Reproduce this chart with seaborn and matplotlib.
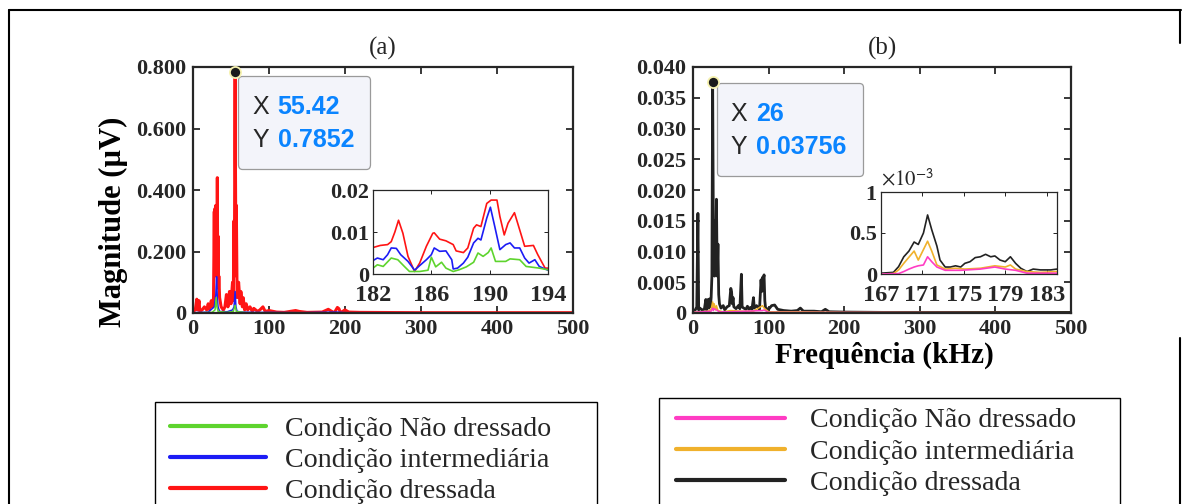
import numpy as np
import matplotlib
matplotlib.use("Agg")
import matplotlib.pyplot as plt
import seaborn as sns
from matplotlib.lines import Line2D
from matplotlib.legend_handler import HandlerLine2D
from matplotlib.offsetbox import TextArea, HPacker, VPacker, AnnotationBbox, DrawingArea

sns.set_style("ticks")
plt.rcParams['font.family'] = ['Liberation Serif', 'DejaVu Serif']
plt.rcParams['mathtext.fontset'] = 'stix'

W, H = 1182, 504

# ---------------- data ----------------
# panel (a) main spectrum (kHz, uV)
freq_red_a = [0, 3, 5, 6, 8, 9, 12, 15, 18, 20, 22, 24, 26, 27, 28, 28.5, 29, 29.5, 30, 30.5, 31,
              31.5, 32, 32.5, 33, 33.5, 34, 35, 37, 40, 42, 44, 46, 48, 50, 52, 53, 54, 54.5, 55.0,
              55.42, 55.8, 56.2, 56.5, 57, 58, 60, 62, 63, 65, 66, 68, 70, 72, 75, 78, 80, 85, 88,
              92, 95, 100, 110, 120, 135, 140, 150, 170, 178, 182, 186, 190, 192, 194, 200, 205,
              220, 300, 400, 500]
mag_red_a = [0.005, 0.01, 0.045, 0.01, 0.04, 0.005, 0.01, 0.02, 0.01, 0.03, 0.01, 0.04, 0.02, 0.05,
             0.33, 0.12, 0.34, 0.15, 0.35, 0.2, 0.3, 0.12, 0.44, 0.1, 0.25, 0.08, 0.12, 0.05, 0.02,
             0.01, 0.02, 0.06, 0.02, 0.07, 0.03, 0.1, 0.04, 0.3, 0.12, 0.55, 0.7852, 0.5, 0.3, 0.2,
             0.35, 0.05, 0.1, 0.03, 0.07, 0.02, 0.05, 0.01, 0.03, 0.01, 0.02, 0.005, 0.015, 0.005,
             0.01, 0.02, 0.005, 0.008, 0.003, 0.002, 0.008, 0.005, 0.002, 0.003, 0.012, 0.006,
             0.001, 0.018, 0.014, 0.001, 0.01, 0.003, 0.002, 0.001, 0.001, 0.001]
freq_blue_a = [0, 20, 28, 30, 31, 32, 33, 35, 45, 52, 54, 55.4, 56.5, 58, 65, 80, 100, 140, 190, 200, 500]
mag_blue_a = [0.001, 0.003, 0.02, 0.06, 0.118, 0.05, 0.02, 0.005, 0.004, 0.01, 0.02, 0.07, 0.02,
              0.005, 0.003, 0.002, 0.002, 0.001, 0.003, 0.001, 0.0005]
freq_green_a = [0, 25, 29, 30.5, 31.5, 33, 45, 53, 55.4, 57, 70, 500]
mag_green_a = [0.0005, 0.002, 0.01, 0.05, 0.02, 0.005, 0.002, 0.005, 0.025, 0.005, 0.001, 0.0003]

# panel (a) inset 182-194 kHz (x 1e-3)
fi_red_a = [182, 182.5, 183, 183.25, 183.5, 183.75, 184.05, 184.4, 184.85, 185.2, 185.66, 186.1,
            186.2, 186.57, 187.0, 187.5, 187.7, 188.2, 188.5, 188.9, 189.1, 189.4, 189.8, 190.1,
            190.5, 190.7, 191.0, 191.26, 191.7, 192.06, 192.4, 193.0, 193.3, 193.8, 194]
mi_red_a = [6.3, 6.8, 7.0, 7.7, 10.0, 12.8, 9.7, 4.2, 0.6, 2.6, 6.6, 9.7, 9.8, 8.3, 7.9, 7.0, 5.5,
            5.1, 6.2, 10.9, 11.7, 11.3, 16.8, 17.6, 17.6, 13.7, 9.3, 12.1, 14.6, 10.5, 6.6, 6.8, 4.6,
            1.4, 1.4]
fi_blue_a = [182, 182.3, 182.7, 183.0, 183.25, 183.6, 183.9, 184.4, 184.85, 185.2, 185.66, 186.0,
             186.2, 186.57, 187.0, 187.4, 187.5, 187.8, 188.2, 188.5, 188.9, 189.2, 189.4, 189.8,
             190.05, 190.35, 190.7, 191.1, 191.4, 191.7, 192.06, 192.4, 192.7, 193.1, 193.4, 194]
mi_blue_a = [3.2, 3.8, 3.4, 4.6, 6.2, 6.1, 4.6, 3.0, 0.9, 2.0, 3.4, 4.6, 6.2, 5.4, 5.5, 3.4, 1.2, 1.4,
             2.6, 4.0, 7.4, 8.5, 8.1, 13.3, 15.9, 11.3, 5.8, 7.0, 7.4, 6.2, 6.2, 3.8, 2.6, 3.4, 1.8, 0.9]
fi_green_a = [182, 182.3, 182.7, 183.25, 183.7, 184.15, 184.5, 185.2, 185.77, 186.0, 186.3, 186.7,
              187.0, 187.5, 187.9, 188.4, 188.9, 189.2, 189.55, 189.9, 190.1, 190.4, 191.1, 191.4,
              192.06, 192.5, 193.4, 194]
mi_green_a = [1.4, 2.2, 1.8, 3.8, 3.4, 1.8, 0.6, 0.6, 0.9, 4.0, 1.7, 2.8, 1.4, 0.6, 1.0, 1.7, 2.8,
              5.0, 4.2, 5.1, 6.2, 3.0, 3.0, 3.6, 3.4, 1.8, 1.4, 1.0]

# panel (b) main spectrum
freq_black_b = [0, 3, 5, 6.5, 7.5, 9, 12, 15, 17, 18, 20, 21, 22, 23, 24, 25, 26, 27, 28, 28.5, 29,
                30, 31, 32, 33, 34, 35, 37, 40, 42, 45, 48, 50, 51, 52, 53, 54, 57, 60, 62, 64, 65,
                67, 70, 72, 74, 76, 78, 80, 81, 84, 88, 90, 91, 92, 93, 94, 95, 96, 100, 104, 108,
                112, 120, 130, 138, 142, 146, 160, 170, 175, 180, 200, 250, 300, 400, 500]
mag_black_b = [0.0003, 0.0005, 0.001, 0.0162, 0.0005, 0.0008, 0.0005, 0.0006, 0.0022, 0.0005, 0.0022,
               0.0008, 0.0023, 0.001, 0.0025, 0.006, 0.03756, 0.012, 0.015, 0.006, 0.014, 0.008,
               0.0185, 0.006, 0.0112, 0.003, 0.0015, 0.0008, 0.0012, 0.0005, 0.001, 0.0012, 0.004,
               0.0035, 0.0015, 0.0025, 0.001, 0.0007, 0.0012, 0.0007, 0.0063, 0.001, 0.0008, 0.0006,
               0.0011, 0.0006, 0.0009, 0.0006, 0.0025, 0.0008, 0.0012, 0.0006, 0.0054, 0.0035,
               0.0058, 0.0055, 0.0062, 0.002, 0.0008, 0.0006, 0.0012, 0.0013, 0.0006, 0.0004,
               0.0003, 0.0004, 0.0008, 0.0003, 0.0003, 0.0002, 0.0006, 0.0002, 0.00015, 0.0001,
               0.0001, 0.0001, 0.0001]
freq_orange_b = [0, 20, 24, 26, 27, 28, 30, 31, 33, 40, 50, 64, 80, 92, 94, 100, 140, 200, 500]
mag_orange_b = [0.0001, 0.0003, 0.0006, 0.0018, 0.0008, 0.0015, 0.0005, 0.0012, 0.0004, 0.0002,
                0.0004, 0.0003, 0.0003, 0.0012, 0.0008, 0.0002, 0.0002, 0.0001, 0.00005]
freq_pink_b = [0, 24, 26, 27, 28, 31, 35, 50, 92, 94, 100, 500]
mag_pink_b = [0.0001, 0.0003, 0.0008, 0.0004, 0.0007, 0.0005, 0.0002, 0.0002, 0.0004, 0.0005,
              0.0001, 0.00003]

# panel (b) inset 167-184 kHz (x 1e-3)
fi_black_b = [167, 168.2, 168.7, 169.2, 169.7, 170.2, 170.6, 171.1, 171.5, 171.9, 172.4, 172.7,
              173.2, 173.7, 174.2, 174.7, 175.1, 175.6, 176.1, 176.6, 177.1, 177.6, 178.0, 178.5,
              179.0, 179.5, 180.0, 180.5, 181.1, 181.7, 182.4, 183.4, 184.0]
mi_black_b = [0.01, 0.02, 0.09, 0.21, 0.28, 0.39, 0.36, 0.5, 0.72, 0.54, 0.34, 0.17, 0.085, 0.085,
              0.10, 0.085, 0.13, 0.15, 0.2, 0.21, 0.24, 0.21, 0.22, 0.17, 0.15, 0.21, 0.13, 0.07,
              0.03, 0.06, 0.05, 0.05, 0.06]
fi_orange_b = [167, 168.2, 168.7, 169.2, 170.2, 170.6, 171.5, 171.9, 172.4, 173.2, 174.2, 175.1,
               176.6, 178.0, 179.0, 179.5, 180.0, 181.1, 182.4, 184.0]
mi_orange_b = [0.0, 0.005, 0.05, 0.13, 0.28, 0.17, 0.4, 0.28, 0.11, 0.06, 0.07, 0.06, 0.07, 0.10,
               0.085, 0.11, 0.06, 0.03, 0.02, 0.03]
fi_pink_b = [167, 168.7, 169.2, 169.7, 170.2, 170.6, 171.1, 171.5, 171.9, 172.4, 173.2, 174.7,
             176.6, 178.0, 179.0, 180.0, 181.1, 184.0]
mi_pink_b = [0.0, 0.005, 0.03, 0.06, 0.085, 0.1, 0.11, 0.21, 0.15, 0.085, 0.045, 0.045, 0.06,
             0.085, 0.06, 0.045, 0.01, 0.01]

labels = ["Condição Não dressado", "Condição intermediária", "Condição dressada"]
colors_a = ["#5ed42e", "#1c1cf5", "#ff1414"]
colors_b = ["#ff3cc3", "#f0b12c", "#222222"]

# ---------------- figure ----------------
fig = plt.figure(figsize=(W / 100, H / 100), dpi=100)
fig.patch.set_facecolor("white")

ax_a = fig.add_axes([193 / W, 1 - 313 / H, 380 / W, 246 / H])
ax_b = fig.add_axes([693 / W, 1 - 313 / H, 378 / W, 246 / H])
ins_a = fig.add_axes([373 / W, 1 - 274 / H, 175 / W, 84 / H])
ins_b = fig.add_axes([881 / W, 1 - 274 / H, 176 / W, 82 / H])

dark = "#262626"
PT = 72 / 100  # points per pixel


def lp(ax, x, y, c, lw):
    sns.lineplot(x=np.asarray(x, float), y=np.asarray(y, float), ax=ax, color=c,
                 linewidth=lw, estimator=None, sort=False)


# main (a): red first, then blue, green
lp(ax_a, freq_red_a, mag_red_a, colors_a[2], 2.2)
lp(ax_a, freq_blue_a, mag_blue_a, colors_a[1], 1.1)
lp(ax_a, freq_green_a, mag_green_a, colors_a[0], 1.1)

lp(ins_a, fi_red_a, np.array(mi_red_a) / 1000, colors_a[2], 1.2)
lp(ins_a, fi_blue_a, np.array(mi_blue_a) / 1000, colors_a[1], 1.2)
lp(ins_a, fi_green_a, np.array(mi_green_a) / 1000, colors_a[0], 1.2)

lp(ax_b, freq_black_b, mag_black_b, colors_b[2], 2.0)
lp(ax_b, freq_orange_b, mag_orange_b, colors_b[1], 1.1)
lp(ax_b, freq_pink_b, mag_pink_b, colors_b[0], 1.1)

lp(ins_b, fi_black_b, np.array(mi_black_b) / 1000, colors_b[2], 1.2)
lp(ins_b, fi_orange_b, np.array(mi_orange_b) / 1000, colors_b[1], 1.2)
lp(ins_b, fi_pink_b, np.array(mi_pink_b) / 1000, colors_b[0], 1.2)


def style(ax, lw, length):
    ax.set_xlabel("")
    ax.set_ylabel("")
    for s in ax.spines.values():
        s.set_visible(True)
        s.set_color(dark)
        s.set_linewidth(lw)
    ax.tick_params(direction="in", top=True, right=True, length=length, width=lw * 0.8,
                   colors=dark, pad=4)


xt = [0, 100, 200, 300, 400, 500]
for ax, yt, ylabs, ymax in [
    (ax_a, [0, 0.2, 0.4, 0.6, 0.8], ["0", "0.200", "0.400", "0.600", "0.800"], 0.8),
    (ax_b, [0, 0.005, 0.01, 0.015, 0.02, 0.025, 0.03, 0.035, 0.04],
     ["0", "0.005", "0.010", "0.015", "0.020", "0.025", "0.030", "0.035", "0.040"], 0.04)]:
    style(ax, 1.6, 5)
    ax.set_xlim(0, 500)
    ax.set_ylim(0, ymax)
    ax.set_xticks(xt, [str(v) for v in xt], fontweight="bold", fontsize=16, color=dark)
    ax.set_yticks(yt, ylabs, fontweight="bold", fontsize=16, color=dark)
    ax.tick_params(axis="y", pad=5)

ax_a.set_title("(a)", fontsize=18, pad=9)
ax_b.set_title("(b)", fontsize=18, pad=9)

style(ins_a, 0.9, 3)
ins_a.set_xlim(182, 194)
ins_a.set_ylim(0, 0.02)
ins_a.set_xticks([182, 186, 190, 194], ["182", "186", "190", "194"], fontweight="bold", fontsize=17.5)
ins_a.set_yticks([0, 0.01, 0.02], ["0", "0.01", "0.02"], fontweight="bold", fontsize=16)

style(ins_b, 0.9, 3)
ins_b.set_xlim(167, 184)
ins_b.set_ylim(0, 0.001)
ins_b.set_xticks([167, 171, 175, 179, 183], ["167", "171", "175", "179", "183"],
                 fontweight="bold", fontsize=17.5)
ins_b.set_yticks([0, 0.0005, 0.001], ["0", "0.5", "1"], fontweight="bold", fontsize=16)
ins_b.text(0.0, 1.02, r"$\times10^{\mathsf{-3}}$", transform=ins_b.transAxes, fontsize=15,
           color=dark, ha="left", va="bottom")
for ax in (ins_a, ins_b):
    ax.tick_params(axis="x", pad=8)
    ax.tick_params(axis="y", pad=3)


# data tips
def datatip(ax, x, y, xs, ys, offset):
    ax.plot([x], [y], "o", color="#1a1a1a", markersize=8, markeredgecolor="#f6f2b0",
            markeredgewidth=1.3, zorder=20, clip_on=False)
    rows = []
    for lab, val in (("X", xs), ("Y", ys)):
        rows.append(HPacker(children=[
            TextArea(lab, textprops=dict(color=dark, fontsize=18, family="Liberation Sans")),
            TextArea(val, textprops=dict(color="#0a84ff", fontsize=18, family="Liberation Sans",
                                         fontweight="bold"))], sep=6.5, pad=0, align="baseline"))
    col = VPacker(children=[DrawingArea(1, 10 * PT)] + rows + [DrawingArea(1, 8 * PT)],
                  sep=9 * PT, pad=0, align="left")
    box = HPacker(children=[DrawingArea(14 * PT, 1), col, DrawingArea(16 * PT, 1)], sep=0, pad=0,
                  align="center")
    ab = AnnotationBbox(box, (x, y), xybox=offset, xycoords="data", boxcoords="offset points",
                        box_alignment=(0, 1), frameon=True, fontsize=10,
                        bboxprops=dict(boxstyle="round,pad=0,rounding_size=0.3",
                                       facecolor="#f3f4fa", edgecolor="#9a9a9a", linewidth=0.9))
    ab.set_zorder(11)
    ax.add_artist(ab)


datatip(ax_a, 55.42, 0.7852, "55.42", "0.7852", (3 * PT, -4 * PT))
datatip(ax_b, 26, 0.03756, "26", "0.03756", (4 * PT, -1 * PT))

# axis labels
fig.text(113 / W, 1 - 222 / H, "Magnitude (µV)", rotation=90, fontsize=22, fontweight="bold",
         ha="center", va="center", color="black")
fig.text(884 / W, 1 - 355 / H, "Frequência (kHz)", fontsize=21, fontweight="bold",
         ha="center", va="center", color="black")


# legends
def make_legend(colors, x0, top, width, hlen, xpad, tpad, bpad, lspace):
    handles = [Line2D([], [], color=c, linewidth=3) for c in colors]
    leg = fig.legend(handles, labels, loc="upper left",
                     bbox_to_anchor=(x0 / W, 0, width / W, 1 - top / H), mode="expand",
                     borderaxespad=0, frameon=True, fancybox=False, framealpha=1,
                     edgecolor="black", prop=dict(family="Liberation Serif", size=20.2),
                     handlelength=hlen, handletextpad=tpad, labelspacing=lspace, borderpad=bpad,
                     handler_map={Line2D: HandlerLine2D(xpad=xpad)})
    leg.get_frame().set_linewidth(1.0)
    return leg


make_legend(colors_a, 155, 402, 442, 3.45, 0.0, 0.66, 0.52, 0.19)
make_legend(colors_b, 659, 398, 461, 4.15, 0.25, 0.88, 0.35, 0.2)

# outer frame
for xs_, ys_ in [((9, 9), (10, 504)), ((9, 1181), (10, 10)), ((1180, 1180), (10, 43)),
                 ((1180, 1180), (338, 504))]:
    fig.add_artist(Line2D([v / W for v in xs_], [1 - v / H for v in ys_],
                          transform=fig.transFigure, color="black", linewidth=1.5))

fig.savefig("out.png", dpi=100)
